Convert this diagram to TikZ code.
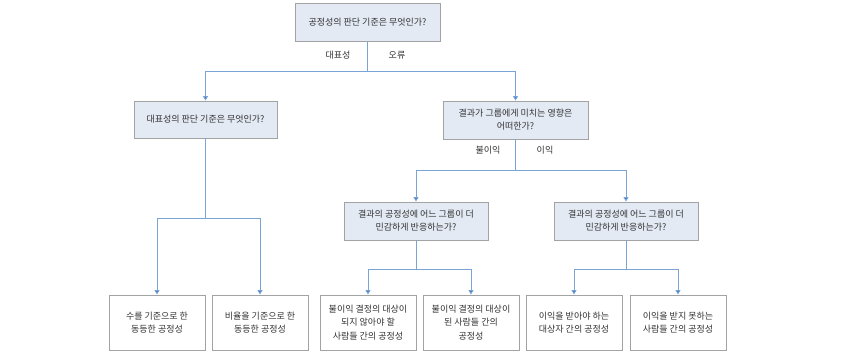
\documentclass[tikz,border=0pt]{standalone}
\usepackage{fontspec}
\setmainfont{Noto Sans CJK KR}
\usepackage{xcolor}
\usetikzlibrary{arrows.meta,positioning}
\definecolor{qfill}{HTML}{E3EAF4}
\definecolor{boxline}{HTML}{A3A3A3}
\definecolor{linkblue}{HTML}{7BA4D6}
\definecolor{tipblue}{HTML}{3C6FBE}
\definecolor{txt}{HTML}{333333}

\begin{document}
\begin{tikzpicture}[x=1pt, y=-1pt,
  question/.style={draw=boxline, line width=0.9pt, fill=qfill, minimum width=145pt, minimum height=38pt, align=center, font=\fontsize{9}{13}\selectfont, text=txt, inner sep=2pt},
  answer/.style={draw=boxline, line width=0.9pt, fill=white, minimum width=96pt, minimum height=55pt, align=center, font=\fontsize{9}{13.5}\selectfont, text=txt, inner sep=2pt},
  branch/.style={font=\fontsize{9}{10}\selectfont, text=txt},
  arrow/.style={-{Triangle[length=4.5pt,width=5pt,fill=tipblue]}, draw=linkblue, line width=0.9pt},
]
\useasboundingbox (0,0) rectangle (844,353);

\node[question] (q0) at (367.5,22.5) {공정성의 판단 기준은 무엇인가?};
\node[question, minimum width=143pt, minimum height=37pt] (q1) at (205.5,119.5) {대표성의 판단 기준은 무엇인가?};
\node[question] (q2) at (515.5,120) {결과가 그룹에게 미치는 영향은\\어떠한가?};
\node[question, minimum width=144pt] (q3) at (416,221) {결과의 공정성에 어느 그룹이 더\\민감하게 반응하는가?};
\node[question, minimum width=144pt] (q4) at (626,221) {결과의 공정성에 어느 그룹이 더\\민감하게 반응하는가?};

\node[answer] (a1) at (157,322.5) {수를 기준으로 한\\동등한 공정성};
\node[answer] (a2) at (260,322.5) {비율을 기준으로 한\\동등한 공정성};
\node[answer] (a3) at (368,322.5) {불이익 결정의 대상이\\되지 않아야 할\\사람들 간의 공정성};
\node[answer] (a4) at (471,322.5) {불이익 결정의 대상이\\된 사람들 간의\\공정성};
\node[answer] (a5) at (574,322.5) {이익을 받아야 하는\\대상자 간의 공정성};
\node[answer] (a6) at (678,322.5) {이익을 받지 못하는\\사람들 간의 공정성};

\node[branch] (b1) at (338,55) {대표성};
\node[branch] (b2) at (397,55) {오류};
\node[branch] (b3) at (488,150) {불이익};
\node[branch] (b4) at (545,150) {이익};

\draw[arrow] (q0.south) -- ++(0,29.5) -| (q1.north);
\draw[arrow] (q0.south) -- ++(0,29.5) -| (q2.north);
\draw[arrow] (q1.south) -- ++(0,80) -| (a1.north);
\draw[arrow] (q1.south) -- ++(0,80) -| (a2.north);
\draw[arrow] (q2.south) -- ++(0,31) -| (q3.north);
\draw[arrow] (q2.south) -- ++(0,31) -| (q4.north);
\draw[arrow] (q3.south) -- ++(0,29) -| (a3.north);
\draw[arrow] (q3.south) -- ++(0,29) -| (a4.north);
\draw[arrow] (q4.south) -- ++(0,29) -| (a5.north);
\draw[arrow] (q4.south) -- ++(0,29) -| (a6.north);

\end{tikzpicture}
\end{document}
